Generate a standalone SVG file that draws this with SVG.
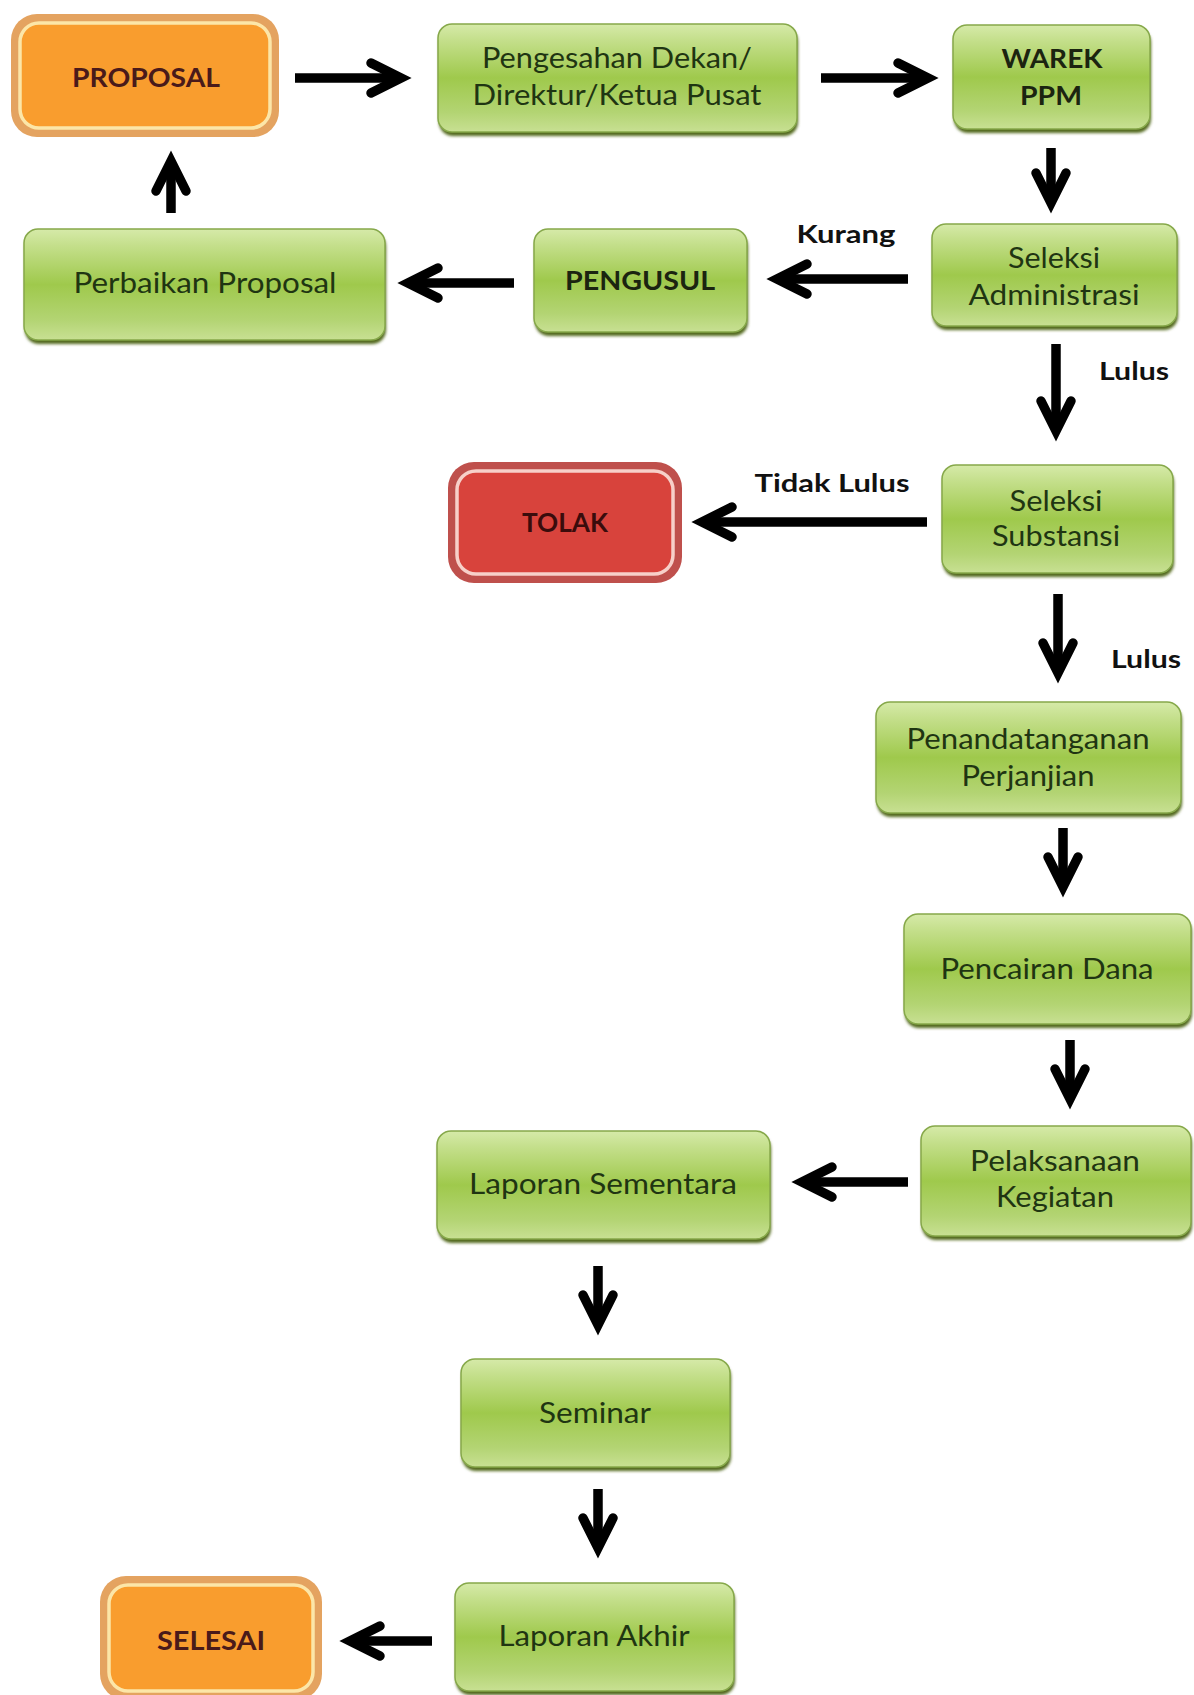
<svg xmlns="http://www.w3.org/2000/svg" width="1194" height="1695" viewBox="0 0 1194 1695">
  <defs>
    <linearGradient id="greenFill" x1="0" y1="0" x2="0" y2="1">
      <stop offset="0" stop-color="#d6eaa9"/>
      <stop offset="0.15" stop-color="#c4df8b"/>
      <stop offset="0.5" stop-color="#9fc94c"/>
      <stop offset="0.82" stop-color="#b3d473"/>
      <stop offset="1" stop-color="#c8e093"/>
    </linearGradient>
    <filter id="soft" x="-5%" y="-10%" width="110%" height="130%">
      <feGaussianBlur stdDeviation="1.6"/>
    </filter>
    <marker id="head" markerUnits="userSpaceOnUse" viewBox="-40 -25 55 50" markerWidth="55" markerHeight="50" refX="0" refY="0" orient="auto">
      <path d="M-30,-15 L0,0 L-30,15" fill="none" stroke="#000" stroke-width="9.5" stroke-linejoin="miter" stroke-linecap="round" stroke-miterlimit="10"/>
    </marker>
  </defs>
  <style>
    .shadow { fill: #52691d; filter: url(#soft); }
    .box { fill: url(#greenFill); stroke: #86a84a; stroke-width: 1.5; }
    .txt { font-family: Lato, "Liberation Sans", sans-serif; font-size: 28px; fill: #1f3512; text-anchor: middle; }
    .bold { font-family: Lato, "Liberation Sans", sans-serif; font-size: 26px; font-weight: bold; fill: #1b2410; text-anchor: middle; }
    .lbl { font-family: Lato, "Liberation Sans", sans-serif; font-size: 25px; font-weight: bold; fill: #111; text-anchor: middle; }
    .orRing { fill: #e4a360; }
    .orIn { fill: #f99d2e; stroke: #fce6a8; stroke-width: 3.5; }
    .rdRing { fill: #bf504c; }
    .rdIn { fill: #d8433c; stroke: #f7d0c9; stroke-width: 3.5; }
    .term { font-family: Lato, "Liberation Sans", sans-serif; font-size: 26px; font-weight: bold; text-anchor: middle; }
    .conn { fill: none; stroke: #000; stroke-width: 9.5; marker-end: url(#head); }
  </style>

  <rect width="1194" height="1695" fill="#fff"/>

  <!-- terminal: start -->
  <g id="proposal">
    <rect class="orRing" x="11" y="14" width="268" height="123" rx="26"/>
    <rect class="orIn" x="20" y="23" width="250" height="105" rx="19"/>
    <text class="term" x="146" y="87" fill="#4a1a1a" textLength="148" lengthAdjust="spacingAndGlyphs">PROPOSAL</text>
  </g>

  <g id="pengesahan">
    <rect class="shadow" x="439" y="28" width="359" height="108" rx="14"/>
    <rect class="box" x="438" y="24" width="359" height="108" rx="14"/>
    <text class="txt" x="617" y="68" textLength="270" lengthAdjust="spacingAndGlyphs">Pengesahan Dekan/</text>
    <text class="txt" x="617" y="105" textLength="289" lengthAdjust="spacingAndGlyphs">Direktur/Ketua Pusat</text>
  </g>

  <g id="warek">
    <rect class="shadow" x="954" y="29" width="197" height="104" rx="14"/>
    <rect class="box" x="953" y="25" width="197" height="104" rx="14"/>
    <text class="bold" x="1052" y="68" textLength="101" lengthAdjust="spacingAndGlyphs">WAREK</text>
    <text class="bold" x="1051" y="105" textLength="62" lengthAdjust="spacingAndGlyphs">PPM</text>
  </g>

  <g id="seleksi-administrasi">
    <rect class="shadow" x="933" y="228" width="245" height="102" rx="14"/>
    <rect class="box" x="932" y="224" width="245" height="102" rx="14"/>
    <text class="txt" x="1054" y="268" textLength="92" lengthAdjust="spacingAndGlyphs">Seleksi</text>
    <text class="txt" x="1054" y="305" textLength="171" lengthAdjust="spacingAndGlyphs">Administrasi</text>
  </g>

  <g id="pengusul">
    <rect class="shadow" x="535" y="233" width="213" height="103" rx="14"/>
    <rect class="box" x="534" y="229" width="213" height="103" rx="14"/>
    <text class="bold" x="640" y="290" textLength="150" lengthAdjust="spacingAndGlyphs">PENGUSUL</text>
  </g>

  <g id="perbaikan-proposal">
    <rect class="shadow" x="25" y="233" width="361" height="111" rx="14"/>
    <rect class="box" x="24" y="229" width="361" height="111" rx="14"/>
    <text class="txt" x="205" y="293" textLength="263" lengthAdjust="spacingAndGlyphs">Perbaikan Proposal</text>
  </g>

  <!-- terminal: rejected -->
  <g id="tolak">
    <rect class="rdRing" x="448" y="462" width="234" height="121" rx="26"/>
    <rect class="rdIn" x="457" y="471" width="216" height="103" rx="19"/>
    <text class="term" x="565" y="532" fill="#3a0c0c" textLength="86" lengthAdjust="spacingAndGlyphs">TOLAK</text>
  </g>

  <g id="seleksi-substansi">
    <rect class="shadow" x="943" y="469" width="231" height="108" rx="14"/>
    <rect class="box" x="942" y="465" width="231" height="108" rx="14"/>
    <text class="txt" x="1056" y="511" textLength="93" lengthAdjust="spacingAndGlyphs">Seleksi</text>
    <text class="txt" x="1056" y="546" textLength="128" lengthAdjust="spacingAndGlyphs">Substansi</text>
  </g>

  <g id="penandatanganan-perjanjian">
    <rect class="shadow" x="877" y="706" width="305" height="111" rx="14"/>
    <rect class="box" x="876" y="702" width="305" height="111" rx="14"/>
    <text class="txt" x="1028" y="749" textLength="243" lengthAdjust="spacingAndGlyphs">Penandatanganan</text>
    <text class="txt" x="1028" y="786" textLength="133" lengthAdjust="spacingAndGlyphs">Perjanjian</text>
  </g>

  <g id="pencairan-dana">
    <rect class="shadow" x="905" y="918" width="287" height="110" rx="14"/>
    <rect class="box" x="904" y="914" width="287" height="110" rx="14"/>
    <text class="txt" x="1047" y="979" textLength="213" lengthAdjust="spacingAndGlyphs">Pencairan Dana</text>
  </g>

  <g id="pelaksanaan-kegiatan">
    <rect class="shadow" x="922" y="1130" width="270" height="110" rx="14"/>
    <rect class="box" x="921" y="1126" width="270" height="110" rx="14"/>
    <text class="txt" x="1055" y="1171" textLength="170" lengthAdjust="spacingAndGlyphs">Pelaksanaan</text>
    <text class="txt" x="1055" y="1207" textLength="118" lengthAdjust="spacingAndGlyphs">Kegiatan</text>
  </g>

  <g id="laporan-sementara">
    <rect class="shadow" x="438" y="1135" width="333" height="108" rx="14"/>
    <rect class="box" x="437" y="1131" width="333" height="108" rx="14"/>
    <text class="txt" x="603" y="1194" textLength="268" lengthAdjust="spacingAndGlyphs">Laporan Sementara</text>
  </g>

  <g id="seminar">
    <rect class="shadow" x="462" y="1363" width="269" height="108" rx="14"/>
    <rect class="box" x="461" y="1359" width="269" height="108" rx="14"/>
    <text class="txt" x="595" y="1423" textLength="112" lengthAdjust="spacingAndGlyphs">Seminar</text>
  </g>

  <g id="laporan-akhir">
    <rect class="shadow" x="456" y="1587" width="279" height="108" rx="14"/>
    <rect class="box" x="455" y="1583" width="279" height="108" rx="14"/>
    <text class="txt" x="594" y="1646" textLength="191" lengthAdjust="spacingAndGlyphs">Laporan Akhir</text>
  </g>

  <!-- terminal: finished -->
  <g id="selesai">
    <rect class="orRing" x="100" y="1576" width="222" height="124" rx="26"/>
    <rect class="orIn" x="109" y="1585" width="204" height="106" rx="19"/>
    <text class="term" x="211" y="1650" fill="#4a1a1a" textLength="108" lengthAdjust="spacingAndGlyphs">SELESAI</text>
  </g>

  <!-- connectors (each line stops 10px short of its arrow tip) -->
  <g id="connectors">
    <path class="conn" d="M295,78 H401"/>
    <path class="conn" d="M821,78 H928"/>
    <path class="conn" d="M1051,148 V203"/>
    <path class="conn" d="M908,279 H777"/>
    <path class="conn" d="M514,283 H408"/>
    <path class="conn" d="M171,213 V161"/>
    <path class="conn" d="M1056,344 V431"/>
    <path class="conn" d="M927,522 H702"/>
    <path class="conn" d="M1058,594 V673"/>
    <path class="conn" d="M1063,828 V887"/>
    <path class="conn" d="M1070,1040 V1099"/>
    <path class="conn" d="M908,1182 H802"/>
    <path class="conn" d="M598,1266 V1325"/>
    <path class="conn" d="M598,1489 V1548"/>
    <path class="conn" d="M432,1641 H350"/>
  </g>

  <!-- connector labels -->
  <g id="labels">
    <text class="lbl" x="846" y="243" textLength="99" lengthAdjust="spacingAndGlyphs">Kurang</text>
    <text class="lbl" x="1134" y="380" textLength="70" lengthAdjust="spacingAndGlyphs">Lulus</text>
    <text class="lbl" x="832" y="492" textLength="155" lengthAdjust="spacingAndGlyphs">Tidak Lulus</text>
    <text class="lbl" x="1146" y="668" textLength="70" lengthAdjust="spacingAndGlyphs">Lulus</text>
  </g>
</svg>
